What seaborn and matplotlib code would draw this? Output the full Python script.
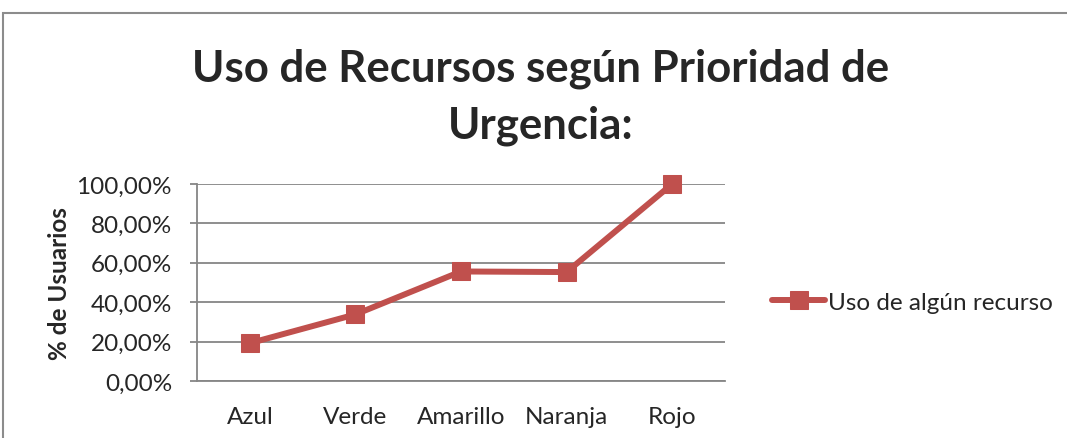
import numpy as np
import pandas as pd
import matplotlib
matplotlib.use('Agg')
import matplotlib.pyplot as plt
import seaborn as sns
from matplotlib.patches import Rectangle
from matplotlib.ticker import FuncFormatter

categorias = ['Azul', 'Verde', 'Amarillo', 'Naranja', 'Rojo']
uso_recurso = [19.2, 33.8, 55.6, 55.3, 100.0]
serie = 'Uso de algún recurso'

df = pd.DataFrame({'prioridad': categorias, 'pct': uso_recurso})

sns.set_style('white')
plt.rcParams['font.family'] = ['Lato', 'DejaVu Sans']

fig = plt.figure(figsize=(10.67, 4.39), dpi=100)
ax = fig.add_axes([197 / 1067, 1 - 382 / 439, 528 / 1067, 197 / 439])

# chart frame (cut at right and bottom like the screenshot)
fig.patches.append(Rectangle((3 / 1067, -0.1), 1.2, 1 - 14 / 439 + 0.1,
                             transform=fig.transFigure, fill=False,
                             edgecolor='#8c8c8c', linewidth=1.5))

sns.lineplot(data=df, x='prioridad', y='pct', ax=ax, sort=False,
             color='#C0504D', linewidth=4.3, marker='s', markersize=13,
             markeredgecolor='#C0504D', label=serie, clip_on=False, zorder=5)

ax.set_xlim(-0.5, 4.5)
ax.set_ylim(0, 100)
ax.set_yticks(np.arange(0, 101, 20))
ax.yaxis.set_major_formatter(FuncFormatter(lambda v, p: f'{v:.2f}%'.replace('.', ',')))
ax.grid(axis='y', color='#868686', linewidth=1.3)
ax.set_axisbelow(True)
for s in ['top', 'right']:
    ax.spines[s].set_visible(False)
for s in ['bottom', 'left']:
    ax.spines[s].set_color('#868686')
    ax.spines[s].set_linewidth(1.3)
ax.tick_params(axis='y', labelsize=17.5, length=5, width=1.3, color='#868686',
               direction='out', left=True, pad=13)
ax.tick_params(axis='x', labelsize=17.5, length=0, pad=18)
ax.set_xlabel('')
ax.set_ylabel('% de Usuarios', fontsize=17.5, fontweight='bold', labelpad=4)

fig.text(541 / 1067, 1 - 97 / 439, 'Uso de Recursos según Prioridad de\nUrgencia:',
         ha='center', va='center', fontsize=31.5, fontweight='bold', linespacing=1.5)

ax.legend(loc='center left', bbox_to_anchor=(750 / 1067, 1 - 303 / 439),
          bbox_transform=fig.transFigure, frameon=False, fontsize=17.5,
          handlelength=2.2, handletextpad=0.1)

fig.savefig('out.png', dpi=100)
